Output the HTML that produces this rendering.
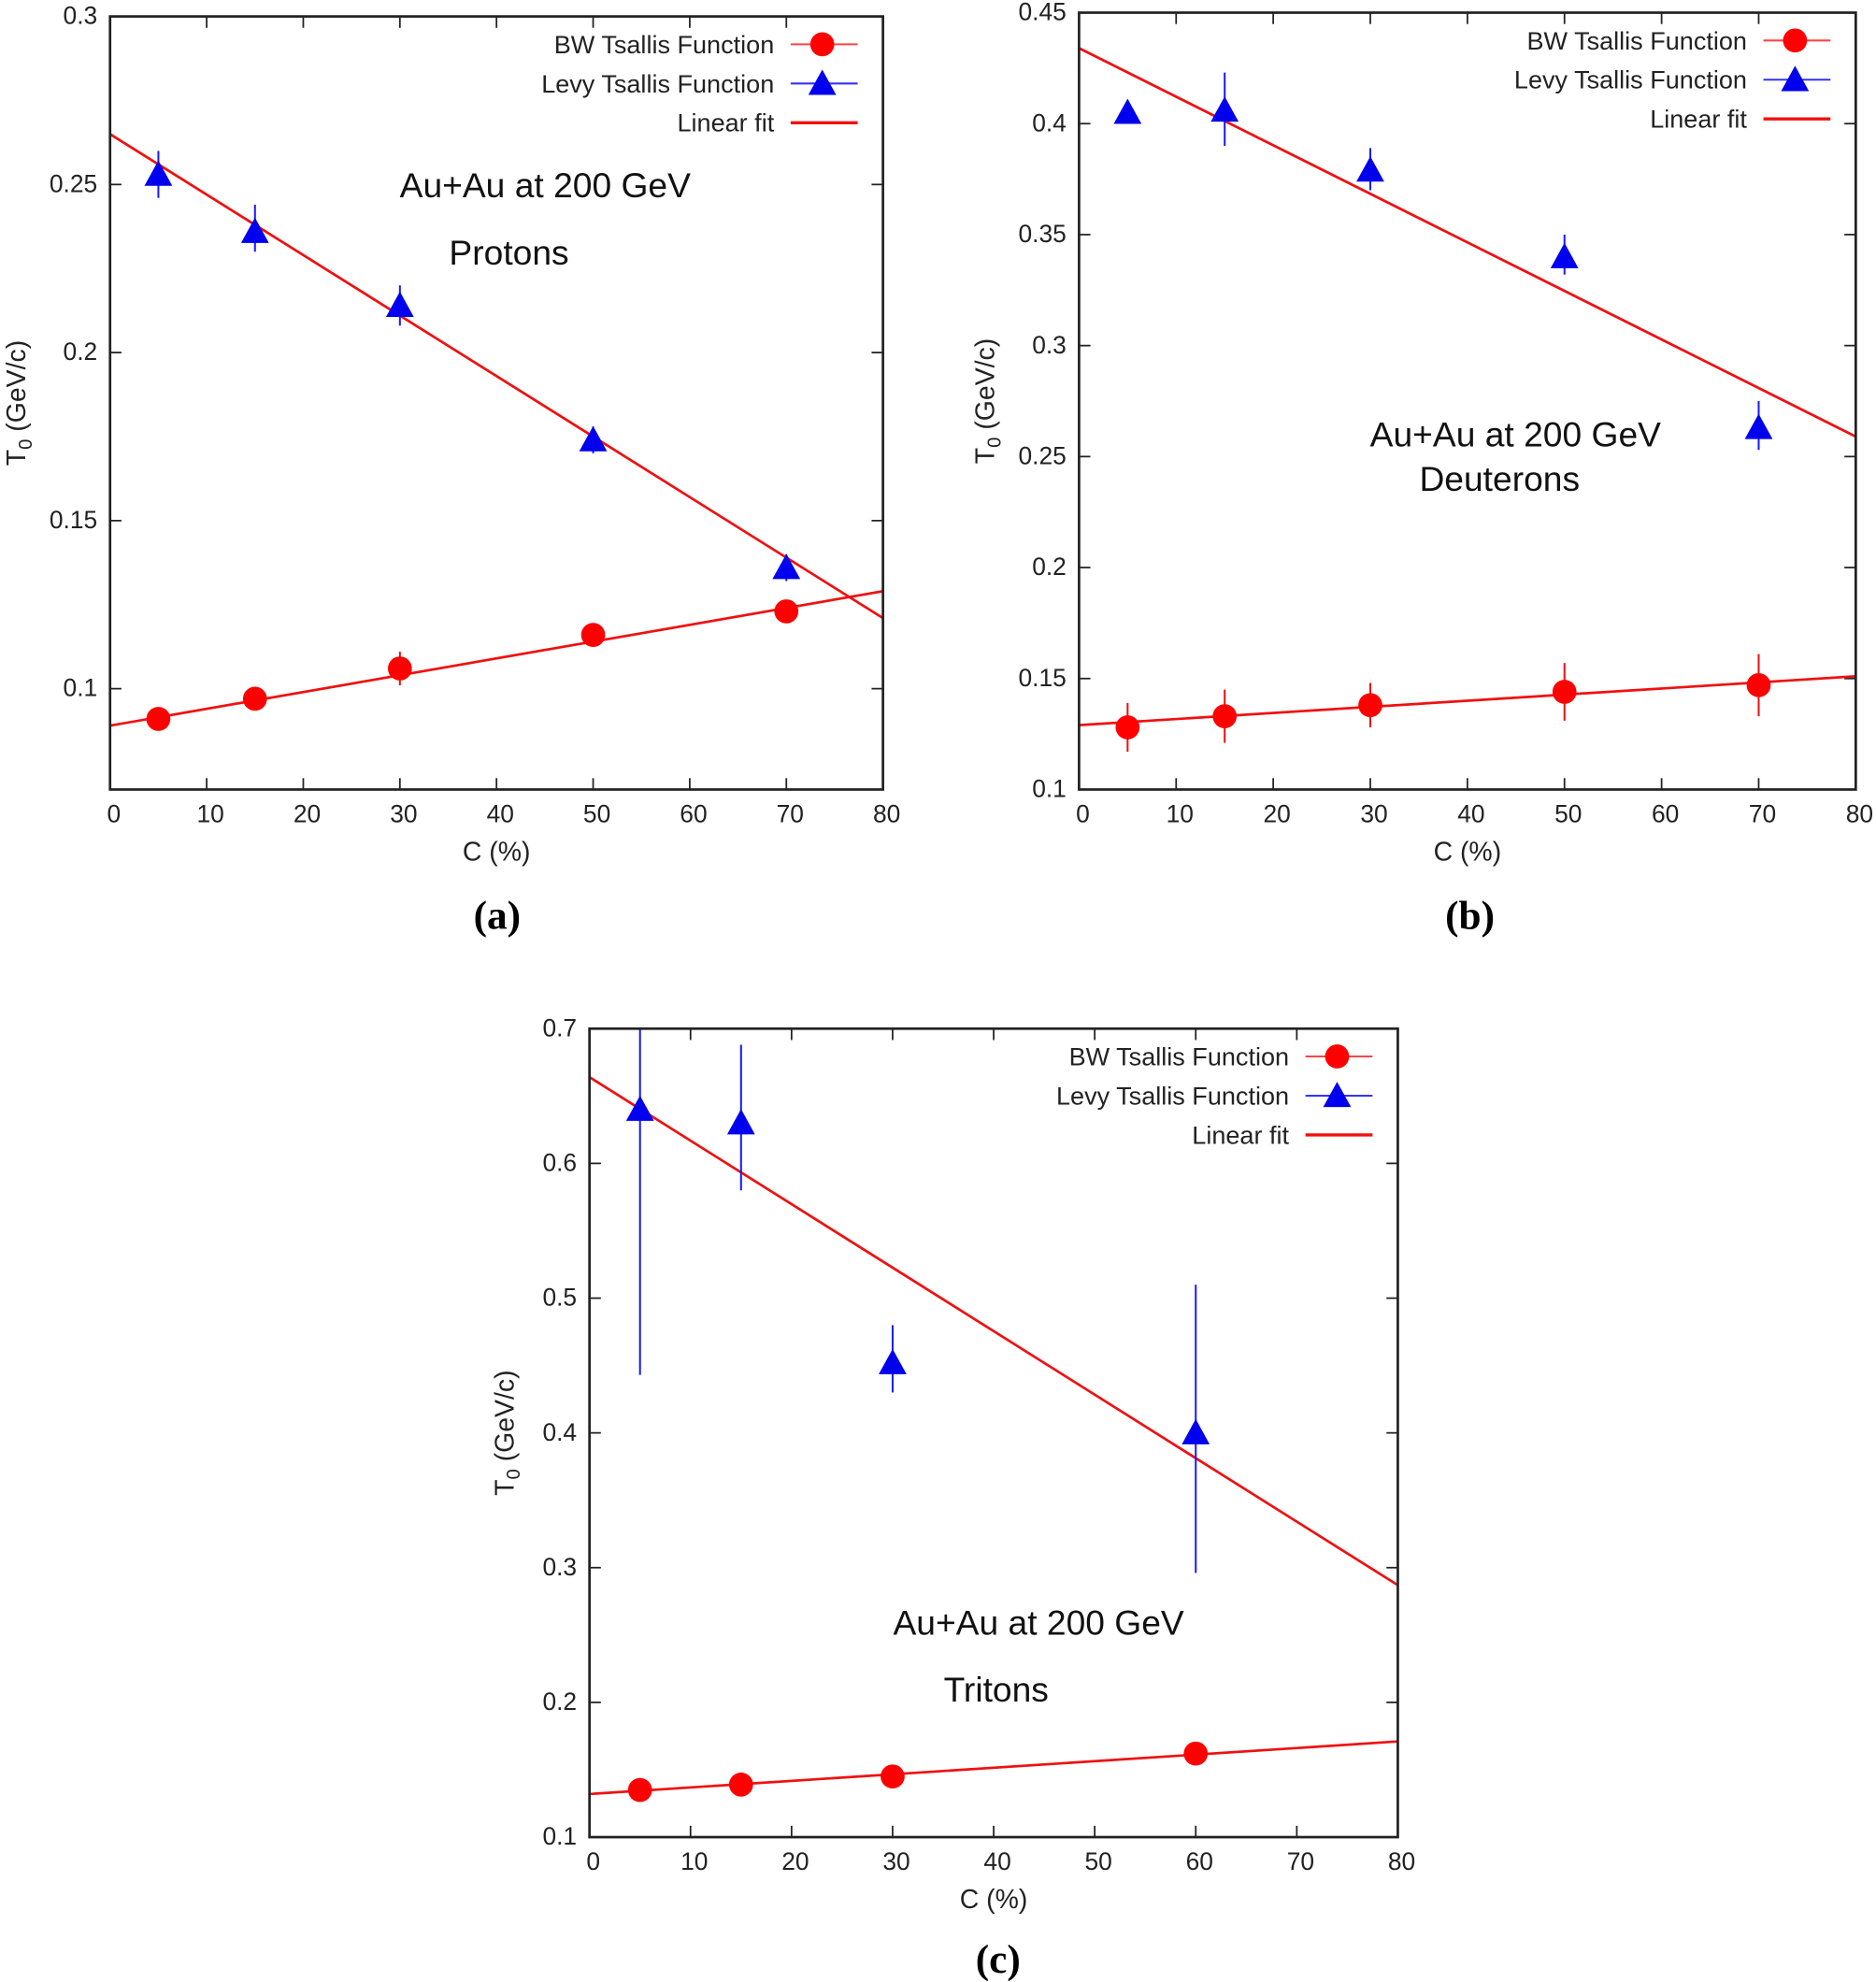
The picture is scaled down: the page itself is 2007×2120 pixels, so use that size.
<!DOCTYPE html>
<html><head><meta charset="utf-8"><style>
html,body{margin:0;padding:0;background:#fff;}
svg{display:block;}
</style></head><body>
<svg id="s" width="2007" height="2120" viewBox="0 0 1483 1566.5" xmlns="http://www.w3.org/2000/svg" font-family="Liberation Sans, sans-serif"></svg>
<script>
const S=document.getElementById('s');let h='';
function panel(p){
 const X=x=>p.l+(x-0)/80*(p.r-p.l), Y=y=>p.b-(y-p.y0)/(p.y1-p.y0)*(p.b-p.t);
 for(let x=0;x<=80;x+=10){const px=X(x);
  h+=`<line x1="${px}" y1="${p.b}" x2="${px}" y2="${p.b-9}" stroke="#222" stroke-width="1.3"/><line x1="${px}" y1="${p.t}" x2="${px}" y2="${p.t+9}" stroke="#222" stroke-width="1.3"/>`;
  h+=`<text x="${px+3}" y="${p.b+26}" font-size="19.5" text-anchor="middle" fill="#222">${x}</text>`;}
 for(const y of p.yt){const py=Y(y);
  h+=`<line x1="${p.l}" y1="${py}" x2="${p.l+9}" y2="${py}" stroke="#222" stroke-width="1.3"/><line x1="${p.r}" y1="${py}" x2="${p.r-9}" y2="${py}" stroke="#222" stroke-width="1.3"/>`;
  h+=`<text x="${p.l-10}" y="${py+6}" font-size="19.5" text-anchor="end" fill="#222">${y}</text>`;}
 for(const f of p.fits){h+=`<line x1="${X(0)}" y1="${Y(f[0])}" x2="${X(80)}" y2="${Y(f[1])}" stroke="#f01010" stroke-width="2"/>`;}
 for(const d of p.bw){ if(d[2])h+=`<line x1="${X(d[0])}" y1="${Y(d[1]-d[2])}" x2="${X(d[0])}" y2="${Y(d[1]+d[2])}" stroke="#f01010" stroke-width="1.5"/>`;
  h+=`<circle cx="${X(d[0])}" cy="${Y(d[1])}" r="9.5" fill="#f00"/>`;}
 for(const d of p.lv){const x=X(d[0]),y=Y(d[1]);
  if(d[2]!=null)h+=`<line x1="${x}" y1="${Y(d[2])}" x2="${x}" y2="${Y(d[3])}" stroke="#1a1aff" stroke-width="1.5"/>`;
  h+=`<polygon points="${x-11},${y+9} ${x+11},${y+9} ${x},${y-11}" fill="#0000ee"/>`;}
 h+=`<rect x="${p.l}" y="${p.t}" width="${p.r-p.l}" height="${p.b-p.t}" fill="none" stroke="#222" stroke-width="2"/>`;
 const lx=p.r-20, tx=p.r-86;
 const ly=[p.t+22,p.t+53,p.t+84];
 h+=`<text x="${tx}" y="${ly[0]+7}" font-size="20" text-anchor="end" fill="#222">BW Tsallis Function</text><line x1="${tx+13}" y1="${ly[0]}" x2="${lx}" y2="${ly[0]}" stroke="#f44" stroke-width="1.5"/><circle cx="${tx+38}" cy="${ly[0]}" r="9.5" fill="#f00"/>`;
 h+=`<text x="${tx}" y="${ly[1]+7}" font-size="20" text-anchor="end" fill="#222">Levy Tsallis Function</text><line x1="${tx+13}" y1="${ly[1]}" x2="${lx}" y2="${ly[1]}" stroke="#33f" stroke-width="1.5"/><polygon points="${tx+27},${ly[1]+9} ${tx+49},${ly[1]+9} ${tx+38},${ly[1]-11}" fill="#0000ee"/>`;
 h+=`<text x="${tx}" y="${ly[2]+7}" font-size="20" text-anchor="end" fill="#222">Linear fit</text><line x1="${tx+13}" y1="${ly[2]}" x2="${lx}" y2="${ly[2]}" stroke="#f01010" stroke-width="2.5"/>`;
 for(const a of p.ann)h+=`<text x="${a[0]}" y="${a[1]}" font-size="27.5" fill="#111">${a[2]}</text>`;
 const cx=(p.l+p.r)/2;
 h+=`<text x="${cx}" y="${p.b+56}" font-size="21" text-anchor="middle" fill="#222">C (%)</text>`;
 const ym=(p.t+p.b)/2;
 h+=`<text transform="translate(${p.yl},${ym}) rotate(-90)" font-size="21" text-anchor="middle" fill="#222">T<tspan font-size="15" dy="5">0</tspan><tspan dy="-5"> (GeV/c)</tspan></text>`;
 h+=`<text x="${p.cap[0]}" y="${p.cap[1]}" font-size="32" font-weight="bold" font-family="Liberation Serif, serif" text-anchor="middle" fill="#000">${p.cap[2]}</text>`;
}
panel({l:87,r:698,t:13,b:624,y0:0.07,y1:0.3,yt:[0.3,0.25,0.2,0.15,0.1],yl:20,
 fits:[[0.089,0.129],[0.265,0.121]],
 bw:[[5,0.091],[15,0.097],[30,0.106,0.005],[50,0.116],[70,0.123]],
 lv:[[5,0.253,0.246,0.26],[15,0.236,0.23,0.244],[30,0.214,0.208,0.22],[50,0.174,0.17,0.178],[70,0.136,0.132,0.14]],
 ann:[[316,156,'Au+Au at 200 GeV'],[355,209,'Protons']],cap:[393,734,'(a)']});
panel({l:853,r:1467,t:10,b:624,y0:0.1,y1:0.45,yt:[0.45,0.4,0.35,0.3,0.25,0.2,0.15,0.1],yl:786,
 fits:[[0.129,0.151],[0.434,0.259]],
 bw:[[5,0.128,0.011],[15,0.133,0.012],[30,0.138,0.01],[50,0.144,0.013],[70,0.147,0.014]],
 lv:[[5,0.405],[15,0.406,0.39,0.423],[30,0.379,0.37,0.389],[50,0.340,0.332,0.35],[70,0.263,0.253,0.275]],
 ann:[[1083,353,'Au+Au at 200 GeV'],[1122,388,'Deuterons']],cap:[1162,734,'(b)']});
panel({l:466,r:1105,t:813,b:1452,y0:0.1,y1:0.7,yt:[0.7,0.6,0.5,0.4,0.3,0.2,0.1],yl:406,
 fits:[[0.132,0.171],[0.664,0.287]],
 bw:[[5,0.135],[15,0.139],[30,0.145],[60,0.162]],
 lv:[[5,0.64,0.443,0.7],[15,0.63,0.58,0.688],[30,0.452,0.43,0.48],[60,0.40,0.296,0.51]],
 ann:[[706,1292,'Au+Au at 200 GeV'],[746,1345,'Tritons']],cap:[789,1559,'(c)']});
S.innerHTML=h;
</script>
</body></html>
